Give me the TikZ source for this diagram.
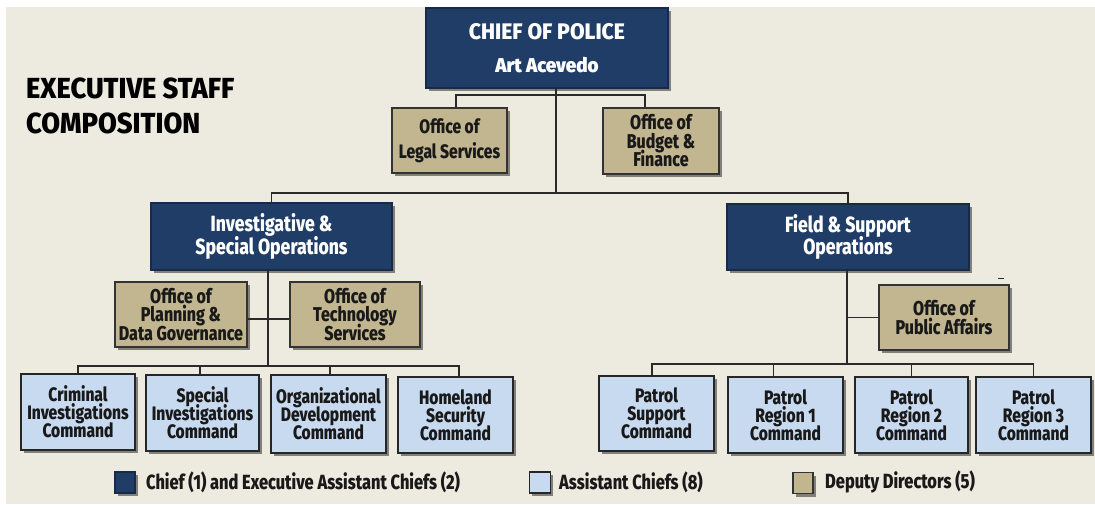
\documentclass[tikz,border=0pt]{standalone}
\usepackage{fontspec}
\setmainfont{Fira Sans}[FakeStretch=0.8]
\newfontfamily\xbA{Fira Sans ExtraBold}[FakeStretch=0.94]
\newfontfamily\xbB{Fira Sans ExtraBold}[FakeStretch=0.8]
\newcommand\tightls{\lineskiplimit=-20pt\relax}
\usetikzlibrary{shadows}
\definecolor{bgc}{HTML}{EDEAE0}
\definecolor{navy}{HTML}{1F3D66}
\definecolor{tanc}{HTML}{C2B690}
\definecolor{lblue}{HTML}{C8DAF0}
\definecolor{lnc}{HTML}{2A2A2A}
\begin{document}
\begin{tikzpicture}[x=1pt,y=-1pt,
  base/.style={rectangle, inner sep=0pt, align=center, line width=1.3pt,
    drop shadow={shadow xshift=2.5pt, shadow yshift=-3pt, opacity=0.45, fill=black}},
  sz/.style 2 args={minimum width=#1, minimum height=#2},
  exec/.style={base, fill=navy, draw=navy!70!black, text=white},
  dep/.style={base, fill=tanc, draw=black!80, text=black!90},
  asst/.style={base, fill=lblue, draw=black!85, text=black!90},
  conn/.style={draw=lnc, line width=1.3pt},
  fexec/.style={font={\xbB\fontsize{22}{22.5}\selectfont\tightls}},
  fdep/.style={font={\xbB\fontsize{20}{18.5}\selectfont\tightls}},
  fcmd/.style={font={\xbB\fontsize{19.5}{18}\selectfont\tightls}},
  fleg/.style={font={\xbB\fontsize{20.5}{21}\selectfont}, text=black!90},
  ftitle/.style={font={\xbA\fontsize{29}{30}\selectfont}, text=black}]
\useasboundingbox (0,0) rectangle (1095,504);
\fill[white] (0,0) rectangle (1095,504);
\fill[bgc] (6,7) rectangle (1095,504);

% title
\node[ftitle, anchor=base west, inner sep=0pt] (title1) at (26,98) {EXECUTIVE STAFF};
\node[ftitle, anchor=base west, inner sep=0pt] (title2) at (26,133) {COMPOSITION};

% top level
\node[exec, sz={242}{80}, font={\xbA\fontsize{22.5}{33}\selectfont\tightls}] (chief) at (547,48)
  {CHIEF OF POLICE\\{\bfseries\fontsize{20}{33}\selectfont Art Acevedo}};
\node[dep, sz={115}{65}, font={\xbB\fontsize{19.5}{25}\selectfont\tightls}] (legal) at (449.5,140.5) {Office of\\Legal Services};
\node[dep, sz={116}{66}, fdep] (budget) at (661,141) {Office of\\Budget \&\\Finance};

\node[exec, sz={241}{67}, fexec] (iso) at (271.5,236.5) {Investigative \&\\Special Operations};
\node[exec, sz={242}{66}, fexec] (fso) at (848,237) {Field \& Support\\Operations};

\node[dep, sz={132}{65}, fdep] (plan) at (181,314.5) {Office of\\Planning \&\\Data Governance};
\node[dep, sz={130}{65}, fdep] (tech) at (355,314.5) {Office of\\Technology\\Services};
\node[dep, sz={130}{65}, fdep] (pub) at (944,317.5) {Office of\\Public Affairs};

\node[asst, sz={114}{76}, fcmd] (crim) at (78,412) {Criminal\\Investigations\\Command};
\node[asst, sz={113}{76}, fcmd] (spec) at (202.5,413) {Special\\Investigations\\Command};
\node[asst, sz={115}{78}, fcmd] (org) at (328.5,414) {Organizational\\Development\\Command};
\node[asst, sz={115}{76}, fcmd] (home) at (455.5,415) {Homeland\\Security\\Command};

\node[asst, sz={115}{75}, fcmd] (ps) at (656.5,413.5) {Patrol\\Support\\Command};
\node[asst, sz={115}{76}, fcmd] (r1) at (785.5,415) {Patrol\\Region 1\\Command};
\node[asst, sz={113}{76}, fcmd] (r2) at (911.5,415) {Patrol\\Region 2\\Command};
\node[asst, sz={115}{76}, fcmd] (r3) at (1033.5,415) {Patrol\\Region 3\\Command};

% connectors
\coordinate (c0) at (556,95);
\coordinate (c1) at (556,193);
\coordinate (c2) at (268,366);
\coordinate (c3) at (847,364);
\coordinate (lt) at ([xshift=6.5pt]legal.north);
\coordinate (bt) at ([xshift=-16pt]budget.north);
\draw[conn] (lt) |- (c0) -| (bt);
\draw[conn] (chief.south -| c1) -- (c1);
\draw[conn] (iso.north) |- (c1) -| (fso.north);

\draw[conn] (iso.south -| c2) -- (c2);
\draw[conn] ([yshift=-4.5pt]plan.east) -- ([yshift=-4.5pt]tech.west);
\draw[conn] (crim.north) |- (c2);
\draw[conn] ([xshift=3.5pt]home.north) |- (c2);
\draw[conn] ([xshift=-2.5pt]spec.north) -- ([xshift=-2.5pt]spec.north |- c2);
\draw[conn] ([xshift=1.5pt]org.north) -- ([xshift=1.5pt]org.north |- c2);

\draw[conn] (fso.south -| c3) -- (c3);
\draw[conn] (pub.west) -- (pub.west -| c3);
\coordinate (psd) at ([xshift=-4.5pt]ps.north);
\coordinate (r1d) at ([xshift=-12pt]r1.north);
\draw[conn] (psd) |- (c3);
\draw[conn] (r3.north) |- (c3);
\draw[conn] (r1d) -- (r1d |- c3);
\draw[conn] (r2.north) -- (r2.north |- c3);

% stray mark
\draw[line width=1pt, lnc] (998,278) -- (1004,278);

% legend
\node[exec, sz={20}{21}] (k1) at (125,482.5) {};
\node[asst, sz={21}{21}] (k2) at (540,482.5) {};
\node[dep, sz={20}{21}] (k3) at (803,483) {};
\node[fleg, anchor=west, inner sep=0pt] (l1) at (146,482) {Chief (1) and Executive Assistant Chiefs (2)};
\node[fleg, anchor=west, inner sep=0pt] (l2) at (559,482) {Assistant Chiefs (8)};
\node[fleg, anchor=west, inner sep=0pt] (l3) at (825,482) {Deputy Directors (5)};
\end{tikzpicture}
\end{document}
